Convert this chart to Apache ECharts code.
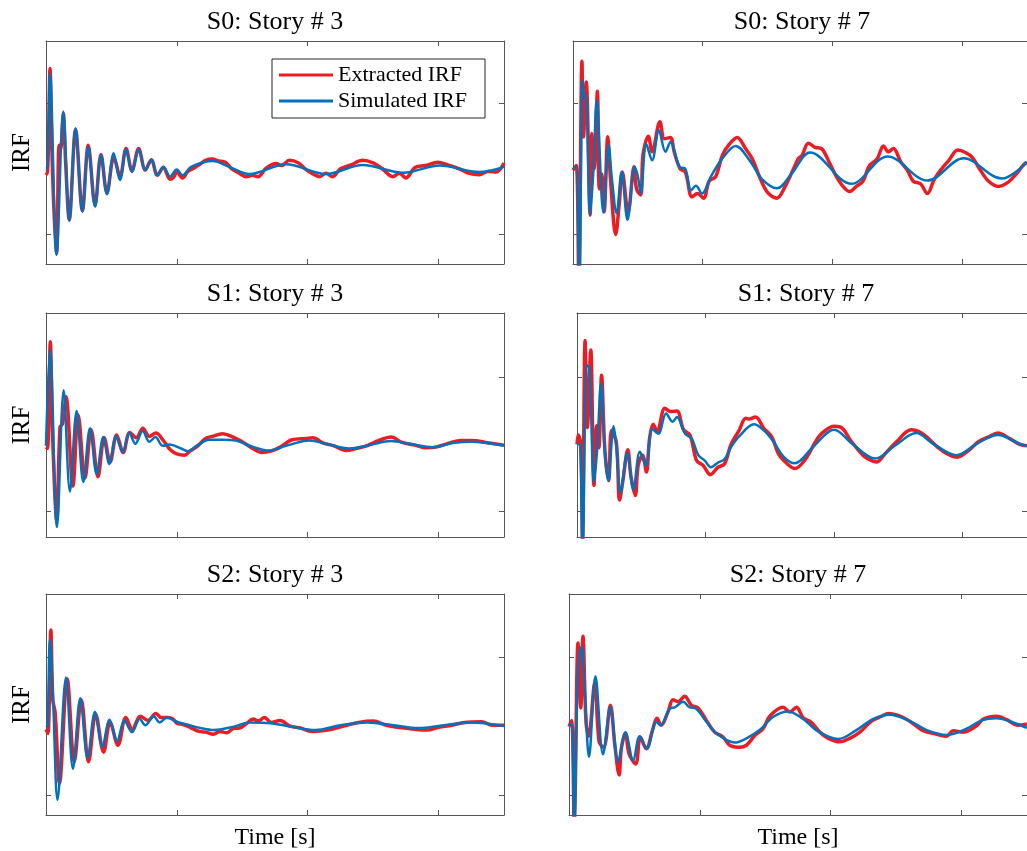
<!DOCTYPE html>
<html>
<head>
<meta charset="utf-8">
<script src="https://cdn.jsdelivr.net/npm/echarts@6/dist/echarts.min.js"></script>
<style>
  html, body { margin: 0; padding: 0; background: #fff; }
  #chart { width: 1027px; height: 851px; }
</style>
</head>
<body>
<div id="chart"></div>
<script>
// panel titles (row by row, left then right)
var panelTitles = ['S0: Story # 3', 'S0: Story # 7', 'S1: Story # 3', 'S1: Story # 7', 'S2: Story # 3', 'S2: Story # 7'];
var xTicks = [1, 2, 3];
var yTicks = [-1, 1];

// S0, story 3
var extS0St3Time = [0,0.008,0.018,0.031,0.045,0.06,0.081,0.10,0.112,0.132,0.15,0.178,0.226,0.278,0.323,0.375,0.42,0.466,0.517,0.53,0.566,0.612,0.657,0.708,0.759,0.805,0.851,0.897,0.948,0.975,1.0,1.044,1.08,1.12,1.17,1.22,1.27,1.32,1.37,1.42,1.47,1.53,1.58,1.62,1.682,1.758,1.80,1.86,1.93,1.98,2.04,2.09,2.14,2.19,2.25,2.33,2.42,2.50,2.57,2.65,2.70,2.75,2.82,2.90,2.994,3.07,3.16,3.22,3.31,3.38,3.44,3.5];
var extS0St3Irf = [-0.06,-0.08,0.3,1.54,0.3,-0.6,-1.30,0.36,0.3,0.85,0.1,-0.78,0.6,-0.64,0.36,-0.56,0.22,-0.37,0.17,0.12,-0.12,0.31,-0.03,0.31,-0.02,0.14,-0.10,0.02,-0.16,-0.13,-0.05,-0.14,-0.05,0.0,0.06,0.13,0.15,0.12,0.10,0.0,-0.06,-0.12,-0.10,-0.12,0.01,0.08,0.05,0.13,0.09,0.0,-0.08,-0.12,-0.07,-0.12,0.0,0.06,0.13,0.09,0.0,-0.12,-0.07,-0.14,0.02,0.05,0.10,0.06,0.0,-0.06,-0.09,-0.04,-0.05,0.09];
var simS0St3Time = [0,0.012,0.031,0.081,0.132,0.178,0.226,0.278,0.323,0.375,0.42,0.466,0.517,0.566,0.612,0.657,0.708,0.759,0.805,0.851,0.897,0.948,0.999,1.044,1.109,1.274,1.40,1.554,1.835,2.14,2.42,2.73,3.007,3.31,3.5];
var simS0St3Irf = [0,0.02,1.46,-1.32,0.88,-0.80,0.62,-0.66,0.34,-0.58,0.21,-0.39,0.24,-0.17,0.30,-0.05,0.30,-0.02,0.14,-0.10,0.03,-0.12,-0.01,-0.10,0.03,0.12,0.03,-0.08,0.07,-0.08,0.06,-0.06,0.05,-0.05,0.03];

// S0, story 7
var extS0St7Time = [0,0.025,0.045,0.069,0.081,0.102,0.132,0.145,0.163,0.188,0.203,0.222,0.24,0.268,0.29,0.329,0.357,0.38,0.425,0.47,0.49,0.522,0.54,0.581,0.61,0.67,0.705,0.751,0.78,0.826,0.866,0.918,0.96,1.006,1.05,1.10,1.152,1.203,1.266,1.33,1.38,1.457,1.508,1.572,1.636,1.70,1.738,1.764,1.815,1.866,1.916,1.98,2.031,2.082,2.133,2.184,2.235,2.286,2.344,2.394,2.43,2.47,2.526,2.577,2.623,2.679,2.732,2.783,2.834,2.898,2.966,3.025,3.076,3.14,3.204,3.28,3.344,3.408,3.473,3.5];
var extS0St7Irf = [-0.02,0.05,-1.75,1.65,0.49,1.33,-0.71,0.54,0.0,1.19,-0.31,-0.08,-0.66,0.49,-0.19,-1.01,-0.52,-0.05,-0.67,0.03,-0.31,-0.40,0.22,0.50,0.26,0.72,0.46,0.48,0.26,0.0,-0.05,-0.43,-0.38,-0.45,-0.19,-0.12,0.21,0.37,0.48,0.31,0.16,-0.21,-0.38,-0.45,-0.27,0.0,0.16,0.20,0.39,0.33,0.31,0.08,-0.12,-0.27,-0.35,-0.27,-0.19,0.05,0.15,0.35,0.26,0.31,0.11,-0.02,-0.19,-0.23,-0.38,-0.17,-0.02,0.13,0.29,0.25,0.18,-0.02,-0.19,-0.27,-0.22,-0.10,0.06,0.10];
var simS0St7Time = [0,0.025,0.048,0.074,0.089,0.10,0.132,0.158,0.183,0.234,0.275,0.30,0.336,0.375,0.42,0.476,0.50,0.522,0.565,0.61,0.662,0.713,0.751,0.82,0.866,0.91,0.948,0.994,1.063,1.152,1.254,1.368,1.457,1.572,1.687,1.827,2.146,2.426,2.732,3.012,3.305,3.5];
var simS0St7Irf = [0.02,0.03,-1.75,1.36,1.10,1.12,-0.71,0.0,1.05,-0.67,0.36,-0.16,-0.68,-0.05,-0.78,0.03,-0.12,-0.37,0.38,0.13,0.59,0.26,0.41,0.03,0.0,-0.33,-0.26,-0.38,-0.12,0.16,0.35,0.11,-0.16,-0.30,-0.07,0.25,-0.23,0.19,-0.18,0.16,-0.15,0.10];

// S1, story 3
var extS1St3Time = [0,0.012,0.033,0.05,0.082,0.107,0.127,0.153,0.205,0.246,0.298,0.345,0.397,0.445,0.49,0.54,0.59,0.64,0.69,0.74,0.79,0.84,0.90,0.95,1.0,1.06,1.10,1.16,1.22,1.27,1.35,1.43,1.50,1.58,1.644,1.72,1.79,1.88,1.988,2.04,2.12,2.2,2.294,2.37,2.45,2.545,2.638,2.72,2.82,2.905,2.98,3.08,3.17,3.26,3.36,3.5];
var extS1St3Irf = [-0.04,-0.06,1.53,0.15,-1.13,0.26,0.31,0.71,-0.62,0.44,-0.50,0.22,-0.48,0.10,-0.26,0.14,-0.12,0.18,0.10,0.24,0.12,0.17,0.05,-0.08,-0.14,-0.16,-0.10,-0.02,0.09,0.12,0.16,0.11,0.04,-0.06,-0.12,-0.10,-0.04,0.07,0.09,0.10,0.02,-0.02,-0.09,-0.06,-0.02,0.06,0.11,0.03,-0.01,-0.05,-0.04,0.02,0.06,0.06,0.03,-0.01];
var simS1St3Time = [0,0.031,0.084,0.135,0.183,0.234,0.285,0.336,0.387,0.438,0.484,0.535,0.586,0.637,0.683,0.739,0.79,0.836,0.892,0.944,1.032,1.083,1.159,1.249,1.35,1.452,1.554,1.694,1.835,2.013,2.14,2.319,2.472,2.638,2.777,2.956,3.109,3.25,3.5];
var simS1St3Irf = [-0.02,1.41,-1.23,0.81,-0.70,0.50,-0.56,0.24,-0.44,0.11,-0.29,0.12,-0.11,0.17,0.01,0.20,0.04,0.11,-0.02,0.0,-0.06,-0.10,-0.01,0.07,0.07,0.06,-0.02,-0.09,-0.02,0.06,0.01,-0.06,-0.01,0.05,0.01,-0.04,0.02,0.04,-0.02];

// S1, story 7
var extS1St7Time = [0,0.01,0.03,0.043,0.063,0.081,0.107,0.132,0.153,0.17,0.191,0.217,0.247,0.268,0.306,0.331,0.357,0.395,0.42,0.453,0.476,0.51,0.54,0.565,0.593,0.623,0.683,0.726,0.777,0.828,0.879,0.93,0.98,1.037,1.096,1.147,1.198,1.261,1.312,1.338,1.389,1.453,1.516,1.567,1.631,1.694,1.77,1.861,1.912,2.0,2.064,2.128,2.192,2.243,2.332,2.396,2.485,2.6,2.664,2.728,2.804,2.88,2.957,3.033,3.122,3.198,3.274,3.363,3.443,3.5];
var extS1St7Irf = [0.0,0.14,0.0,-1.5,1.55,0.25,1.41,-0.61,0.28,-0.05,1.03,-0.09,-0.54,0.21,0.03,-0.83,-0.54,-0.08,-0.48,-0.76,-0.31,-0.16,-0.41,0.10,0.30,0.19,0.54,0.49,0.50,0.22,0.14,-0.24,-0.31,-0.45,-0.34,-0.29,0.0,0.21,0.39,0.38,0.41,0.24,0.11,-0.14,-0.28,-0.36,-0.24,0.06,0.18,0.27,0.24,0.06,-0.09,-0.19,-0.26,-0.14,0.04,0.22,0.19,0.10,-0.04,-0.14,-0.19,-0.11,0.04,0.11,0.17,0.09,0.0,-0.02];
var simS1St7Time = [0,0.02,0.043,0.076,0.097,0.132,0.158,0.186,0.217,0.242,0.285,0.306,0.339,0.39,0.438,0.489,0.535,0.586,0.632,0.693,0.744,0.777,0.841,0.892,0.943,0.994,1.04,1.096,1.147,1.198,1.261,1.376,1.453,1.529,1.606,1.694,1.835,2.0,2.141,2.319,2.472,2.638,2.778,2.951,3.109,3.274,3.443,3.5];
var simS1St7Irf = [0.0,0.01,-1.5,1.18,1.13,-0.56,-0.04,0.91,-0.14,-0.54,0.27,-0.04,-0.72,-0.13,-0.67,-0.11,-0.31,0.23,0.16,0.46,0.34,0.41,0.16,0.09,-0.16,-0.24,-0.34,-0.27,-0.22,-0.04,0.12,0.30,0.21,0.04,-0.18,-0.28,-0.04,0.22,0.01,-0.21,-0.02,0.17,0.0,-0.16,0.01,0.14,0.01,-0.02];

// S2, story 3
var extS2St3Time = [0,0.015,0.037,0.052,0.07,0.103,0.162,0.216,0.27,0.325,0.38,0.44,0.49,0.55,0.61,0.66,0.72,0.78,0.84,0.88,0.93,0.97,1.0,1.05,1.1,1.17,1.22,1.28,1.33,1.38,1.43,1.48,1.53,1.585,1.62,1.67,1.72,1.79,1.86,1.944,2.033,2.11,2.2,2.3,2.388,2.5,2.6,2.683,2.78,2.913,3.0,3.1,3.2,3.33,3.41,3.5];
var extS2St3Irf = [-0.05,-0.11,1.39,0.38,0.19,-0.83,0.68,-0.52,0.38,-0.52,0.17,-0.38,0.05,-0.28,0.12,-0.05,0.14,0.08,0.18,0.12,0.12,0.10,0.04,0.02,-0.02,-0.08,-0.09,-0.12,-0.08,-0.10,-0.04,-0.03,0.03,0.10,0.07,0.12,0.05,0.08,0.0,-0.03,-0.08,-0.07,-0.04,0.01,0.05,0.07,0.01,-0.02,-0.04,-0.06,-0.02,0.01,0.05,0.06,0.01,0.01];
var simS2St3Time = [0,0.012,0.03,0.055,0.088,0.153,0.206,0.262,0.318,0.374,0.43,0.486,0.543,0.599,0.657,0.716,0.759,0.823,0.868,0.925,1.0,1.078,1.18,1.281,1.435,1.56,1.716,1.868,2.06,2.25,2.454,2.658,2.849,3.04,3.244,3.5];
var simS2St3Irf = [-0.02,0.0,1.25,0.33,-1.07,0.70,-0.62,0.40,-0.46,0.20,-0.30,0.09,-0.22,0.08,-0.09,0.10,0.01,0.14,0.05,0.12,0.06,0.02,-0.03,-0.06,-0.01,0.05,0.04,-0.01,-0.06,0.01,0.05,0.01,-0.03,0.01,0.05,0.0];

// S2, story 7
var extS2St7Time = [0,0.02,0.04,0.069,0.09,0.107,0.13,0.15,0.197,0.23,0.265,0.316,0.35,0.383,0.40,0.431,0.46,0.51,0.545,0.59,0.64,0.672,0.705,0.756,0.795,0.833,0.884,0.935,0.986,1.05,1.113,1.177,1.228,1.304,1.356,1.42,1.483,1.534,1.636,1.687,1.738,1.789,1.853,1.917,1.981,2.07,2.146,2.223,2.312,2.389,2.44,2.529,2.618,2.707,2.81,2.885,2.936,3.013,3.115,3.166,3.268,3.345,3.434,3.5];
var extS2St7Irf = [-0.01,0.08,-1.4,1.20,0.26,1.30,0.05,-0.15,0.63,-0.23,-0.31,0.30,-0.27,-0.71,-0.33,-0.11,-0.41,-0.55,-0.16,-0.33,-0.05,0.11,0.01,0.20,0.38,0.35,0.43,0.30,0.26,0.08,-0.09,-0.16,-0.28,-0.31,-0.28,-0.14,-0.04,0.14,0.27,0.20,0.27,0.12,0.05,-0.09,-0.18,-0.23,-0.18,-0.09,0.07,0.14,0.18,0.14,0.05,-0.07,-0.12,-0.15,-0.07,-0.09,0.0,0.10,0.14,0.09,0.01,0.03];
var simS2St7Time = [0,0.02,0.04,0.068,0.095,0.12,0.153,0.202,0.26,0.316,0.375,0.431,0.49,0.54,0.594,0.668,0.70,0.77,0.81,0.872,0.92,0.97,1.05,1.128,1.267,1.356,1.457,1.559,1.674,1.789,1.904,2.057,2.197,2.325,2.452,2.605,2.733,2.885,3.038,3.153,3.268,3.395,3.5];
var simS2St7Irf = [0.01,0.03,-1.4,0.76,1.15,0.53,-0.45,0.72,-0.41,0.27,-0.52,-0.09,-0.50,-0.15,-0.33,0.06,0.01,0.25,0.27,0.35,0.27,0.25,0.06,-0.11,-0.24,-0.18,-0.06,0.13,0.21,0.10,-0.08,-0.19,-0.06,0.10,0.16,0.07,-0.06,-0.13,-0.04,0.08,0.11,0.05,-0.03];

var curves = [
  [extS0St3Time, extS0St3Irf, simS0St3Time, simS0St3Irf],
  [extS0St7Time, extS0St7Irf, simS0St7Time, simS0St7Irf],
  [extS1St3Time, extS1St3Irf, simS1St3Time, simS1St3Irf],
  [extS1St7Time, extS1St7Irf, simS1St7Time, simS1St7Irf],
  [extS2St3Time, extS2St3Irf, simS2St3Time, simS2St3Irf],
  [extS2St7Time, extS2St7Irf, simS2St7Time, simS2St7Irf]
];

// layout
var FONT = '"Liberation Serif", "Times New Roman", serif';
var AXIS = '#555';
var RED = '#EC1C24';
var BLUE = '#0072BD';
var grids = [
  {left: 46, top: 41, width: 458, height: 223},
  {left: 573, top: 41, width: 458, height: 223},
  {left: 46, top: 313, width: 458, height: 224},
  {left: 577, top: 313, width: 458, height: 224},
  {left: 46, top: 594, width: 458, height: 223},
  {left: 569, top: 594, width: 458, height: 223}
];
var rowYMin = [-1.46, -1.38, -1.29];
var rowYMax = [1.96, 1.96, 1.91];
var titleTops = [9, 281.5, 562];

function zip(t, v) {
  var out = [];
  for (var k = 0; k < Math.min(t.length, v.length); k++) {
    out.push([t[k], v[k]]);
  }
  return out;
}

function xAxisFor(i, pos) {
  var ax = {
    type: 'value', gridIndex: i, position: pos, min: 0, max: 3.5, interval: 1,
    axisLine: {show: true, onZero: false, lineStyle: {color: AXIS, width: 1}},
    axisTick: {show: true, inside: true, length: 5, customValues: xTicks, lineStyle: {color: AXIS}},
    axisLabel: {show: false},
    splitLine: {show: false}
  };
  if (pos === 'bottom' && i >= 4) {
    ax.name = 'Time [s]';
    ax.nameLocation = 'middle';
    ax.nameGap = 11;
    ax.nameTextStyle = {fontFamily: FONT, fontSize: 24, color: '#000'};
  }
  return ax;
}

function yAxisFor(i, pos) {
  var row = Math.floor(i / 2);
  var ax = {
    type: 'value', gridIndex: i, position: pos, min: rowYMin[row], max: rowYMax[row],
    axisLine: {show: true, onZero: false, lineStyle: {color: AXIS, width: 1}},
    axisTick: {show: true, inside: true, length: 5, customValues: yTicks, lineStyle: {color: AXIS}},
    axisLabel: {show: false},
    splitLine: {show: false}
  };
  if (pos === 'left' && i % 2 === 0) {
    ax.name = 'IRF';
    ax.nameLocation = 'middle';
    ax.nameGap = 11;
    ax.nameTextStyle = {fontFamily: FONT, fontSize: 25, color: '#000'};
  }
  return ax;
}

var xAxes = [], yAxes = [], series = [], titles = [];
for (var i = 0; i < 6; i++) {
  xAxes.push(xAxisFor(i, 'bottom'), xAxisFor(i, 'top'));
  yAxes.push(yAxisFor(i, 'left'), yAxisFor(i, 'right'));
  titles.push({
    text: panelTitles[i],
    left: grids[i].left + 229,
    top: titleTops[Math.floor(i / 2)],
    textAlign: 'center',
    padding: 0,
    textStyle: {fontFamily: FONT, fontSize: 26, fontWeight: 'normal', color: '#000'}
  });
  var c = curves[i];
  series.push({
    name: 'Extracted IRF', type: 'line', xAxisIndex: 2 * i, yAxisIndex: 2 * i,
    data: zip(c[0], c[1]), color: RED, showSymbol: false, symbol: 'none', smooth: 0.35,
    lineStyle: {color: RED, width: 3.5}, z: 2
  });
  series.push({
    name: 'Simulated IRF', type: 'line', xAxisIndex: 2 * i, yAxisIndex: 2 * i,
    data: zip(c[2], c[3]), color: BLUE, showSymbol: false, symbol: 'none', smooth: 0.35,
    lineStyle: {color: BLUE, width: 2.5}, z: 3
  });
}

var chart = echarts.init(document.getElementById('chart'), null, {renderer: 'canvas'});
chart.setOption({
  animation: false,
  backgroundColor: '#fff',
  title: titles,
  grid: grids,
  xAxis: xAxes,
  yAxis: yAxes,
  legend: {
    data: [{name: 'Extracted IRF', icon: 'rect'}, {name: 'Simulated IRF', icon: 'rect'}],
    orient: 'vertical', left: 272, top: 59,
    itemWidth: 54, itemHeight: 3, itemGap: 4,
    padding: [5, 6, 6, 7],
    borderColor: '#262626', borderWidth: 1, borderRadius: 0,
    backgroundColor: '#fff',
    selectedMode: false,
    textStyle: {fontFamily: FONT, fontSize: 22, color: '#000', width: 141, lineHeight: 22}
  },
  series: series
});
</script>
</body>
</html>
